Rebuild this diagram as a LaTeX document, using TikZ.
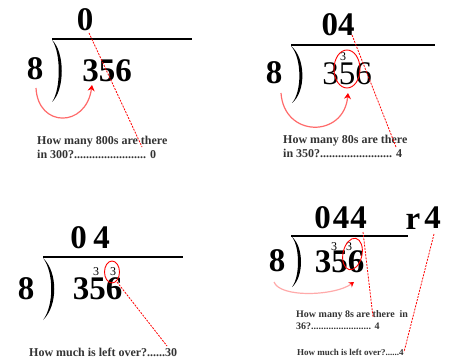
\documentclass[tikz,border=0pt]{standalone}
\usepackage{fontspec}
\setmainfont{Liberation Serif}
\usetikzlibrary{arrows.meta}
\definecolor{arrowred}{HTML}{FF6A6A}
\definecolor{faintred}{HTML}{FFAAAA}
\definecolor{txtgray}{HTML}{333333}
\tikzset{
  big/.style={inner sep=0pt, font=\fontsize{33}{33}\selectfont\bfseries},
  bigreg/.style={inner sep=0pt, font=\fontsize{33}{33}\selectfont},
  sup/.style={inner sep=0pt, font=\fontsize{12}{12}\selectfont},
  qtext/.style={inner sep=0pt, anchor=base west, text=txtgray, font=\fontsize{12}{12}\selectfont\bfseries},
  qsmall/.style={inner sep=0pt, anchor=base west, text=txtgray, font=\fontsize{10}{10}\selectfont\bfseries},
  qtiny/.style={inner sep=0pt, anchor=base west, text=txtgray, font=\fontsize{9}{9}\selectfont\bfseries},
  rule/.style={line width=1.8pt},
  redash/.style={red, line width=0.8pt, dash pattern=on 2pt off 1.2pt},
  carry/.style={arrowred, line width=1.2pt, -{Stealth[red,length=6pt,width=7pt]}},
  fcarry/.style={faintred, line width=1.2pt, -{Stealth[red,length=5pt,width=6pt]}},
  ring/.style={red, line width=0.9pt},
}
\begin{document}
\begin{tikzpicture}[x=1pt,y=-1pt]
\useasboundingbox (0,0) rectangle (452,358);
% ---------- Panel 1 ----------
\node[big] (q1) at (85,20) {0};
\draw[rule] (52,39) -- (192,39);
\fill (52,40) .. controls (65,52) and (65,90) .. (52,102) .. controls (61,90) and (61,52) .. (52,40);
\node[big] (d1) at (35,69) {8};
\node[big] (n1) at (107,71) {356};
\node[qtext] (t1a) at (37,145) {How many 800s are there};
\node[qtext] (t1b) at (37,159) {in 300?........................ 0};
\coordinate (a1s) at (36,88);
\coordinate (a1e) at (92,85);
\draw[carry] (a1s) .. controls (38,128) and (86,128) .. (a1e);
\coordinate (l1s) at (89,33);
\coordinate (l1e) at (142,147);
\draw[redash] (l1s) -- (l1e);
% ---------- Panel 2 ----------
\node[big] (q2) at (338,25) {04};
\draw[rule] (291,45) -- (435,45);
\fill (291,46) .. controls (306,58) and (306,92) .. (292,103) .. controls (302,92) and (302,58) .. (291,46);
\node[big] (d2) at (274,73) {8};
\node[bigreg] (n2) at (347,73.5) {356};
\node[sup] (s2) at (343,57) {3};
\draw[ring] (347,69) ellipse [x radius=13, y radius=19];
\node[qtext] (t2a) at (283,144) {How many 80s are there};
\node[qtext] (t2b) at (283,158) {in 350?........................ 4};
\coordinate (a2s) at (281,93);
\coordinate (a2e) at (348,93);
\draw[carry] (a2s) .. controls (284,138) and (344,138) .. (a2e);
\coordinate (l2s) at (352,35);
\coordinate (l2e) at (396,147);
\draw[redash] (l2s) -- (l2e);
% ---------- Panel 3 ----------
\node[big] (q3a) at (78.5,238) {0};
\node[big] (q3b) at (101.5,238) {4};
\draw[rule] (43,257) -- (183,257);
\fill (43,258) .. controls (58,272) and (58,306) .. (43,320) .. controls (54,306) and (54,272) .. (43,258);
\node[big] (d3) at (26,289) {8};
\node[big] (n3) at (97.5,289) {356};
\node[sup] (s3a) at (96,272) {3};
\node[sup] (s3b) at (113,272) {3};
\draw[ring] (112,272) ellipse [x radius=7.5, y radius=11];
\node[qtext] (t3) at (29,356) {How much is left over?......30};
\coordinate (l3s) at (117,282);
\coordinate (l3e) at (167,346);
\draw[redash] (l3s) -- (l3e);
% ---------- Panel 4 ----------
\node[big] (q4a) at (322.5,218) {0};
\node[big] (q4b) at (341,218) {4};
\node[big] (q4c) at (358.5,218) {4};
\node[big] (r4) at (413,221.5) {r};
\node[big] (r4n) at (432.5,218) {4};
\draw[rule] (291,236) -- (408,236);
\fill (292,237) .. controls (304,247) and (304,277) .. (292,287) .. controls (300,277) and (300,247) .. (292,237);
\node[big] (d4) at (277,261) {8};
\node[big] (n4) at (339.5,261.5) {356};
\node[sup] (s4a) at (334,247) {3};
\node[sup] (s4b) at (349,247) {3};
\draw[ring, rotate around={-12:(352.5,254)}] (352.5,254) ellipse [x radius=9.5, y radius=16];
\node[qsmall] (t4a) at (296,317) {How many 8s are there\ \ in};
\node[qsmall] (t4b) at (296,329) {36?........................ 4};
\node[qtiny] (t4c) at (297,355) {How much is left over?......4};
\coordinate (a4s) at (274,282);
\coordinate (a4e) at (354,282);
\draw[fcarry] (a4s) .. controls (280,298) and (335,296) .. (a4e);
\coordinate (l4s) at (363,232);
\coordinate (l4e) at (373,317);
\draw[redash] (l4s) -- (l4e);
\coordinate (l5s) at (434,234);
\coordinate (l5e) at (404,352);
\draw[redash] (l5s) -- (l5e);
\end{tikzpicture}
\end{document}
